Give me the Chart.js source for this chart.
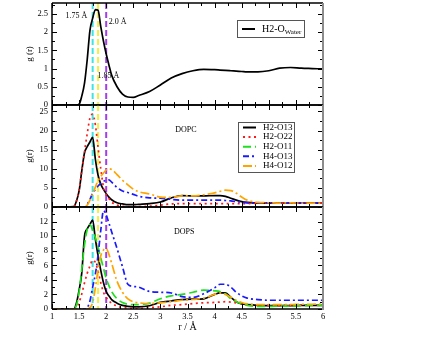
<!DOCTYPE html>
<html>
<head>
<meta charset="utf-8">
<script src="https://cdn.jsdelivr.net/npm/chart.js@4.4.1/dist/chart.umd.min.js"></script>
<style>
  body { margin: 0; background: #fff; }
  #wrap { position: relative; width: 440px; height: 340px; }
  canvas { position: absolute; left: 0; top: 0; }
</style>
</head>
<body>
<div id="wrap">
  <canvas id="pWater" width="440" height="340"></canvas>
  <canvas id="pDopc" width="440" height="340"></canvas>
  <canvas id="pDops" width="440" height="340"></canvas>
</div>
<script>
// r grid (Å) shared by all curves
const r = [1.0, 1.4, 1.45, 1.5, 1.55, 1.6, 1.65, 1.7, 1.75, 1.8,
           1.85, 1.9, 1.95, 2.0, 2.05, 2.1, 2.2, 2.3, 2.4, 2.5,
           2.6, 2.8, 3.0, 3.2, 3.4, 3.6, 3.8, 4.0, 4.1, 4.2,
           4.3, 4.4, 4.5, 4.6, 4.8, 5.0, 5.2, 5.4, 5.6, 5.8, 6.0];

// top panel: H2-O water
const waterH2 = [0, 0, 0, 0.02, 0.25, 0.6, 1.25, 2.05, 2.38, 2.62,
                 2.6, 2.15, 1.75, 1.4, 1.1, 0.82, 0.5, 0.3, 0.22, 0.21,
                 0.26, 0.37, 0.55, 0.74, 0.86, 0.94, 0.98, 0.97, 0.96, 0.95,
                 0.94, 0.93, 0.92, 0.91, 0.91, 0.94, 1.01, 1.03, 1.01, 1.0, 0.99];

// DOPC
const dopcH2O13 = [0, 0.1, 1.5, 4.2, 9.5, 14.2, 15.8, 17.0, 18.2, 12.5,
                   8.3, 6.0, 4.6, 3.5, 2.6, 1.9, 1.1, 0.8, 0.6, 0.6,
                   0.7, 0.9, 1.3, 2.4, 3.0, 2.9, 2.9, 3.0, 3.0, 2.8,
                   2.3, 1.8, 1.4, 1.2, 1.0, 1.0, 1.0, 1.0, 1.0, 1.0, 1.0];
const dopcH2O22 = [0, 0.1, 1.5, 4.5, 9.5, 14.5, 19.2, 23.3, 24.3, 21.5,
                   15.6, 10.0, 5.2, 3.2, 2.2, 1.3, 0.5, 0.2, 0.1, 0.1,
                   0.1, 0.2, 0.5, 0.8, 0.9, 0.9, 0.9, 0.9, 0.9, 0.9,
                   0.9, 0.9, 0.9, 0.9, 1.0, 1.0, 1.0, 1.0, 1.0, 1.0, 1.0];
const dopcH2O11 = null; // not visible in this panel
const dopcH4O13 = [0, 0, 0, 0, 0, 0, 0.7, 2.0, 3.6, 4.6,
                   5.5, 6.2, 6.7, 7.0, 7.1, 6.5, 5.1, 4.2, 3.8, 3.3,
                   2.8, 2.4, 2.3, 2.0, 1.8, 1.8, 1.8, 1.8, 1.8, 1.7,
                   1.6, 1.4, 1.3, 1.1, 1.0, 1.1, 1.0, 1.1, 1.0, 1.1, 1.0];
const dopcH4O12 = [0, 0, 0, 0, 0, 0, 0.5, 1.8, 3.4, 5.2,
                   6.9, 8.0, 8.9, 9.7, 10.0, 9.8, 8.5, 7.0, 5.8, 4.7,
                   4.0, 3.4, 2.6, 2.5, 2.9, 2.9, 3.2, 3.7, 4.1, 4.4,
                   4.3, 3.6, 2.6, 1.8, 1.2, 1.1, 1.0, 1.1, 1.0, 1.0, 1.0];

// DOPS
const dopsH2O13 = [0, 0, 0.8, 2.6, 5.0, 10.0, 11.0, 11.6, 12.2, 9.6,
                   7.3, 5.3, 3.6, 2.4, 1.8, 1.3, 0.8, 0.5, 0.35, 0.3,
                   0.3, 0.45, 0.9, 1.1, 1.3, 1.35, 1.4, 2.0, 2.2, 2.2,
                   1.6, 1.0, 0.7, 0.6, 0.5, 0.45, 0.45, 0.45, 0.5, 0.5, 0.5];
const dopsH2O22 = [0, 0, 0.2, 0.9, 2.1, 3.6, 4.9, 5.9, 6.7, 6.4,
                   5.2, 3.6, 2.3, 1.6, 1.1, 0.8, 0.4, 0.2, 0.15, 0.1,
                   0.1, 0.2, 0.3, 0.5, 0.6, 0.75, 0.85, 0.9, 0.95, 1.0,
                   0.95, 0.85, 0.75, 0.65, 0.55, 0.5, 0.5, 0.5, 0.55, 0.55, 0.55];
const dopsH2O11 = [0, 0, 0.5, 2.3, 5.5, 8.8, 10.9, 11.6, 10.8, 9.8,
                   8.5, 7.0, 5.6, 4.2, 3.2, 2.4, 1.4, 0.9, 0.65, 0.6,
                   0.6, 0.8, 1.4, 1.8, 2.0, 2.3, 2.6, 2.5, 2.4, 2.1,
                   1.4, 1.0, 0.7, 0.5, 0.35, 0.35, 0.4, 0.4, 0.45, 0.5, 0.5];
const dopsH4O13 = [0, 0, 0, 0, 0, 0, 0.2, 1.1, 3.0, 4.8,
                   7.4, 10.8, 13.5, 12.9, 11.8, 10.6, 8.3, 5.8, 3.4, 3.1,
                   3.0, 2.4, 2.3, 2.2, 1.7, 1.6, 2.1, 2.9, 3.4, 3.4,
                   3.0, 2.3, 1.8, 1.5, 1.3, 1.2, 1.2, 1.2, 1.2, 1.2, 1.2];
const dopsH4O12 = [0, 0, 0, 0, 0, 0, 0, 0.2, 0.9, 2.9,
                   5.4, 7.3, 8.1, 8.3, 7.5, 6.3, 3.8, 2.3, 1.4, 1.0,
                   0.85, 0.75, 0.85, 1.0, 1.2, 1.3, 1.5, 2.0, 2.2, 2.0,
                   1.6, 1.2, 0.9, 0.7, 0.6, 0.6, 0.6, 0.6, 0.65, 0.65, 0.7];

// reference distances (Å) marked by dashed vertical lines
const markR = [1.75, 1.85, 2.0];
const markColors = ['#3ee4e4', '#f4f040', '#a23ee6'];

const seriesNames = ['H2-O13', 'H2-O22', 'H2-O11', 'H4-O13', 'H4-O12'];
const seriesColors = ['#000000', '#ff1a1a', '#1ee01e', '#1a1aff', '#ffa500'];
const seriesDash = [[], [2, 3.5], [8, 4], [6, 3, 2, 3], [9, 3, 2, 3]];

const SERIF = "'Liberation Serif', 'DejaVu Serif', serif";

function line(ctx, x1, y1, x2, y2) {
  ctx.beginPath(); ctx.moveTo(x1, y1); ctx.lineTo(x2, y2); ctx.stroke();
}

const framePlugin = {
  id: 'frame',
  beforeDatasetsDraw(chart) {
    const {ctx, chartArea: a, scales: {x}} = chart;
    ctx.save();
    ctx.lineWidth = 2;
    ctx.setLineDash([6, 3]);
    markR.forEach((v, i) => {
      const px = x.getPixelForValue(v);
      ctx.strokeStyle = markColors[i];
      line(ctx, px, a.top, px, a.bottom);
    });
    ctx.restore();
  },
  afterDatasetsDraw(chart) {
    const {ctx, chartArea: a, scales: {x, y}} = chart;
    const p = chart.options.plugins.frame;
    ctx.save();
    // ticks, inward on all four sides
    ctx.strokeStyle = '#000';
    ctx.lineWidth = 1;
    for (let v = 1; v <= 6.001; v += 0.25) {
      const px = Math.round(x.getPixelForValue(v)) + 0.5;
      const len = Math.abs(v * 2 - Math.round(v * 2)) < 1e-6 ? 5 : 3;
      line(ctx, px, a.bottom, px, a.bottom - len);
      line(ctx, px, a.top, px, a.top + len);
    }
    for (let k = 0; k * p.minor <= y.max + 1e-6; k++) {
      const v = k * p.minor;
      const py = Math.round(y.getPixelForValue(v)) + 0.5;
      const len = (k % 2 === 0) ? 5 : 3;
      line(ctx, a.left, py, a.left + len, py);
      line(ctx, a.right, py, a.right - len, py);
    }
    // frame
    ctx.strokeStyle = '#000';
    ctx.lineWidth = 1.5;
    line(ctx, a.left, a.top, a.right, a.top);
    line(ctx, a.left, a.bottom, a.right, a.bottom);
    line(ctx, a.left, a.top, a.left, a.bottom);
    ctx.strokeStyle = '#8c8c8c';
    ctx.lineWidth = 2;
    line(ctx, a.right, a.top, a.right, a.bottom + 1);

    // text notes placed at data coordinates
    ctx.fillStyle = '#000';
    ctx.textAlign = 'center';
    ctx.textBaseline = 'middle';
    (p.notes || []).forEach(n => {
      ctx.font = n.size + 'px ' + SERIF;
      ctx.fillText(n.text, x.getPixelForValue(n.x), y.getPixelForValue(n.y));
    });

    // legend box
    if (p.legend) {
      const L = p.legend;
      ctx.fillStyle = '#fff';
      ctx.fillRect(L.x, L.y, L.w, L.h);
      ctx.strokeStyle = '#555';
      ctx.lineWidth = 1;
      ctx.strokeRect(L.x + 0.5, L.y + 0.5, L.w, L.h);
      ctx.textAlign = 'left';
      L.items.forEach((it, i) => {
        const yy = L.y + L.first + i * L.row;
        ctx.strokeStyle = it.color;
        ctx.lineWidth = 2;
        ctx.setLineDash(it.dash);
        line(ctx, L.x + 5, yy, L.x + 18, yy);
        ctx.setLineDash([]);
        ctx.fillStyle = '#000';
        ctx.font = L.size + 'px ' + SERIF;
        ctx.fillText(it.label, L.x + 25, yy);
        if (it.sub) {
          const w = ctx.measureText(it.label).width;
          ctx.font = (L.size - 3) + 'px ' + SERIF;
          ctx.fillText(it.sub, L.x + 25 + w, yy + 3);
        }
      });
    }
    ctx.restore();
  }
};

function makePanel(id, cfg) {
  const datasets = cfg.series.map((s, i) => ({
    label: s.label,
    data: r.map((rv, k) => ({x: rv, y: s.values ? s.values[k] : null})),
    borderColor: s.color,
    borderDash: s.dash,
    borderWidth: 1.7,
    pointRadius: 0,
    fill: false,
    cubicInterpolationMode: 'monotone',
    order: cfg.series.length - i
  }));
  return new Chart(document.getElementById(id), {
    type: 'line',
    data: {datasets},
    options: {
      responsive: false,
      animation: false,
      devicePixelRatio: 1,
      layout: {autoPadding: false, padding: {left: 20, right: 117, top: cfg.top, bottom: cfg.bottom}},
      plugins: {
        legend: {display: false},
        tooltip: {enabled: false},
        frame: {minor: cfg.minor, notes: cfg.notes, legend: cfg.legend}
      },
      scales: {
        x: {
          type: 'linear', min: 1, max: 6,
          display: cfg.showX,
          grid: {display: false, drawTicks: false},
          border: {display: false},
          ticks: {stepSize: 0.5, autoSkip: false, maxRotation: 0, padding: 3, color: '#000',
                  font: {family: SERIF, size: 8.5}, callback: v => String(v)},
          title: {display: true, text: 'r / Å', color: '#000', font: {family: SERIF, size: 10},
                  padding: {top: 0, bottom: 7}},
          afterFit(s) {
            if (cfg.showX) s.height = 31;
            s.paddingLeft = 0; s.paddingRight = 0;
          }
        },
        y: {
          min: 0, max: cfg.yMax,
          grid: {display: false, drawTicks: false},
          border: {display: false},
          ticks: {stepSize: cfg.step, includeBounds: false, autoSkip: false, padding: 4, color: '#000',
                  font: {family: SERIF, size: 8.5},
                  callback: v => (v > cfg.yLabelMax + 1e-9 ? '' : String(v))},
          title: {display: true, text: cfg.yTitle, color: '#000', font: {family: SERIF, size: 9}},
          afterFit(s) {
            s.width = 32;
            s.paddingTop = 0; s.paddingBottom = 0;
          }
        }
      }
    },
    plugins: [framePlugin]
  });
}

const groupItems = seriesNames.map((n, i) => ({label: n, color: seriesColors[i], dash: seriesDash[i]}));

makePanel('pWater', {
  top: 3, bottom: 235, showX: false, yMax: 2.8, step: 0.5, minor: 0.25, yLabelMax: 2.5,
  yTitle: 'g (r)',
  series: [{label: 'H2-Owater', values: waterH2, color: '#000', dash: []}],
  notes: [
    {text: '1.75 Å', x: 1.45, y: 2.44, size: 8},
    {text: '2.0 Å', x: 2.21, y: 2.29, size: 8},
    {text: '1.85 Å', x: 2.04, y: 0.79, size: 8}
  ],
  legend: {x: 237, y: 20, w: 67, h: 17, first: 9, row: 0, size: 10,
           items: [{label: 'H2-O', sub: 'Water', color: '#000', dash: []}]}
});

makePanel('pDopc', {
  top: 105, bottom: 133, showX: false, yMax: 26.7, step: 5, minor: 2.5, yLabelMax: 25,
  yTitle: 'g(r)',
  series: [dopcH2O13, dopcH2O22, dopcH2O11, dopcH4O13, dopcH4O12].map((v, i) => ({
    label: seriesNames[i], values: v, color: seriesColors[i], dash: seriesDash[i]})),
  notes: [{text: 'DOPC', x: 3.47, y: 20.2, size: 8}],
  legend: {x: 238, y: 122, w: 56, h: 50, first: 5.5, row: 9.6, size: 9, items: groupItems}
});

makePanel('pDops', {
  top: 207, bottom: 0, showX: true, yMax: 14, step: 2, minor: 1, yLabelMax: 12,
  yTitle: 'g(r)',
  series: [dopsH2O13, dopsH2O22, dopsH2O11, dopsH4O13, dopsH4O12].map((v, i) => ({
    label: seriesNames[i], values: v, color: seriesColors[i], dash: seriesDash[i]})),
  notes: [{text: 'DOPS', x: 3.44, y: 10.55, size: 8}]
});
</script>
</body>
</html>
